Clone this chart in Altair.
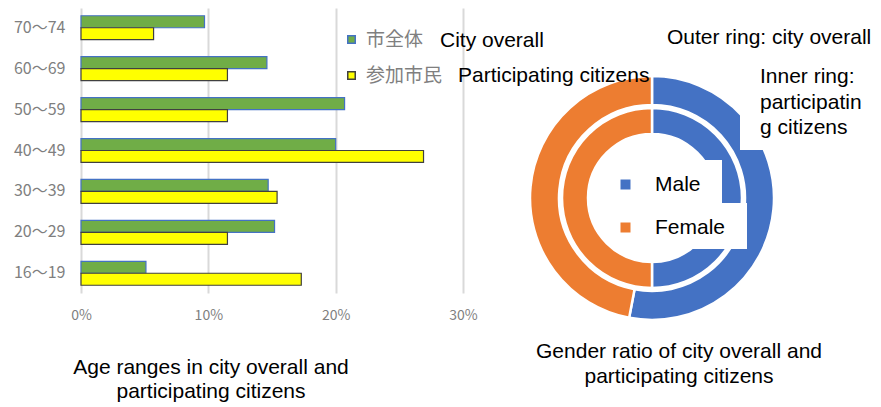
import altair as alt
import pandas as pd

# ---------------- data ----------------
age_groups = ["70～74", "60～69", "50～59", "40～49", "30～39", "20～29", "16～19"]
city_overall = [9.7, 14.6, 20.7, 20.0, 14.7, 15.2, 5.1]
participants = [5.7, 11.5, 11.5, 26.9, 15.4, 11.5, 17.3]
series_names = ["市全体", "参加市民"]
x_ticks = [0, 10, 20, 30]

genders = ["Male", "Female"]
gender_city = [53, 47]
gender_participants = [50, 50]

bars_df = pd.DataFrame({
    "age": age_groups * 2,
    "series": [series_names[0]] * len(age_groups) + [series_names[1]] * len(age_groups),
    "pct": city_overall + participants,
})
outer_df = pd.DataFrame({"gender": genders, "share": gender_city, "idx": list(range(len(genders)))})
inner_df = pd.DataFrame({"gender": genders, "share": gender_participants, "idx": list(range(len(genders)))})

JP = "Noto Sans CJK JP"
EN = "Liberation Sans"
GRAY = "#7f7f7f"

# ---------------- bar chart ----------------
bar_legend = alt.Legend(
    title=None, orient="none", legendX=261, legendY=22, direction="vertical",
    symbolType="square", symbolSize=56, symbolStrokeWidth=1.5,
    labelFont=JP, labelFontSize=19, labelColor=GRAY, labelOffset=5,
    rowPadding=16, zindex=1,
)
bars = alt.Chart(bars_df).mark_bar(strokeWidth=1.2).encode(
    y=alt.Y("age:N", sort=age_groups,
            scale=alt.Scale(paddingInner=0.415, paddingOuter=0.19),
            axis=alt.Axis(title=None, ticks=False, domain=False, grid=False,
                          labelPadding=16, labelFontSize=16, labelColor=GRAY, labelFont=JP)),
    yOffset=alt.YOffset("series:N", sort=series_names,
                        scale=alt.Scale(domain=series_names)),
    x=alt.X("pct:Q", scale=alt.Scale(domain=[0, 30], nice=False),
            axis=alt.Axis(values=x_ticks, labelExpr="datum.value + '%'", title=None,
                          ticks=False, domain=False, grid=True, gridColor="#d9d9d9",
                          gridWidth=2, labelPadding=15, labelFontSize=14, labelFlush=False,
                          labelColor=GRAY, labelFont=JP)),
    color=alt.Color("series:N", sort=series_names,
                    scale=alt.Scale(domain=series_names, range=["#70AD47", "#FFFF00"]),
                    legend=bar_legend),
    stroke=alt.Stroke("series:N", sort=series_names,
                      scale=alt.Scale(domain=series_names, range=["#4472C4", "#404040"]),
                      legend=bar_legend),
)

# ---------------- donut ----------------
CX, CY = 571, 190
gender_legend = alt.Legend(
    title=None, orient="none", legendX=534, legendY=166, direction="vertical",
    symbolType="square", symbolSize=100, symbolStrokeWidth=0,
    labelFont=EN, labelFontSize=21, labelColor="black", labelOffset=19,
    rowPadding=21, zindex=1,
)
gender_scale = alt.Scale(domain=genders, range=["#4472C4", "#ED7D31"])

outer = alt.Chart(outer_df).mark_arc(radius=122, radius2=93, stroke="white", strokeWidth=2.5).encode(
    theta=alt.Theta("share:Q", stack=True),
    order=alt.Order("idx:Q"),
    color=alt.Color("gender:N", scale=gender_scale, legend=gender_legend),
    x=alt.value(CX), y=alt.value(CY),
)
inner = alt.Chart(inner_df).mark_arc(radius=90, radius2=64, stroke="white", strokeWidth=2.5).encode(
    theta=alt.Theta("share:Q", stack=True),
    order=alt.Order("idx:Q"),
    color=alt.Color("gender:N", scale=gender_scale, legend=None),
    x=alt.value(CX), y=alt.value(CY),
)

blank = alt.Data(values=[{}])


def white_box(x1, x2, y1, y2):
    return alt.Chart(blank).mark_rect(color="white").encode(
        x=alt.value(x1), x2=alt.value(x2), y=alt.value(y1), y2=alt.value(y2))


def label(text, x, y, align="left", size=21):
    return alt.Chart(blank).mark_text(
        align=align, baseline="middle", font=EN, fontSize=size, color="black"
    ).encode(x=alt.value(x), y=alt.value(y), text=alt.value(text))


boxes = [
    white_box(659, 785, 60, 142),
    white_box(531, 641, 152, 195),
    white_box(531, 666, 195, 241),
]

texts = [
    label("City overall", 359, 33),
    label("Participating citizens", 377, 68),
    label("Outer ring: city overall", 586, 30),
    label("Inner ring:", 679, 69),
    label("participatin", 679, 95),
    label("g citizens", 679, 120),
    label("Age ranges in city overall and", 130, 360, align="center"),
    label("participating citizens", 130, 384, align="center"),
    label("Gender ratio of city overall and", 598, 344, align="center"),
    label("participating citizens", 598, 369, align="center"),
]

chart = alt.layer(bars, outer, inner, *boxes, *texts).resolve_scale(
    color="independent", stroke="independent"
).properties(
    width=382, height=285,
    padding={"left": 73, "top": 0, "right": 410, "bottom": 112},
    autosize=alt.AutoSizeParams(type="none"),
    background="white",
).configure_view(stroke=None)

chart.save("out.html", embed_options={"renderer": "svg", "actions": False})
